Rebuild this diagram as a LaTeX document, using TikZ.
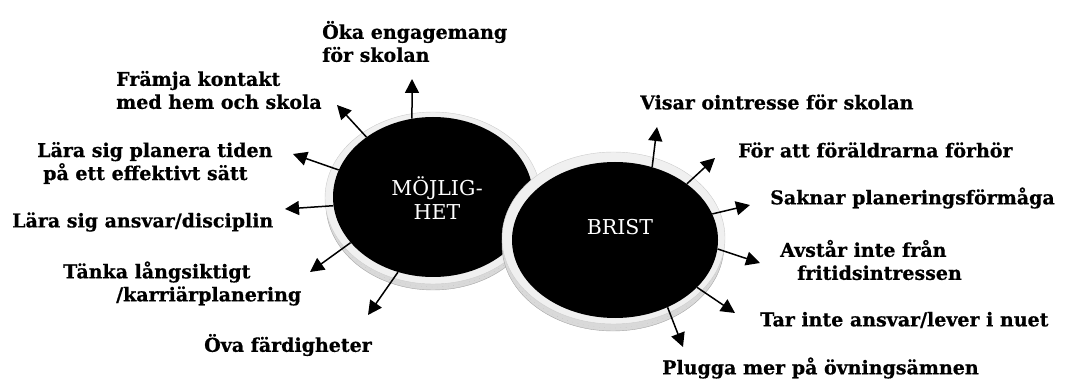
\documentclass[tikz,border=0pt]{standalone}
\usepackage{fontspec}
\usetikzlibrary{arrows.meta,shapes.geometric}
\newfontfamily\lblfam{DejaVu Serif}[BoldFeatures={FakeBold=0.6}]
\newcommand{\lblfont}{\lblfam\bfseries\fontsize{19}{23}\selectfont}
\newcommand{\infont}{\lblfam\fontsize{20.5}{24}\selectfont}
\definecolor{rimgray}{HTML}{F0F0F0}
\begin{document}
\begin{tikzpicture}[x=1pt,y=-1pt,
  lbl/.style={font=\lblfont, align=left, anchor=west, inner sep=0pt},
  disk/.style={ellipse, fill=black, inner sep=0pt, text=white, font=\infont, align=center},
  rim/.style={fill=rimgray, draw=gray!40, line width=0.4pt},
  lip/.style={fill=gray!30, draw=gray!70, line width=0.4pt},
  arr/.style={line width=1.5pt, -{Triangle[length=14pt,width=14pt]}}]
\useasboundingbox (0,0) rectangle (1068,379);
% MOJLIGHET disk
\fill[lip] (433,204) ellipse [x radius=107, y radius=86];
\draw[gray!60, line width=0.3pt, dash pattern=on 0.4pt off 5pt] (433,202) ellipse [x radius=106, y radius=85];
\fill[rim] (433,198) ellipse [x radius=108, y radius=86];
\node[disk, minimum width=200pt, minimum height=160pt] (m) at (433,197) {};
\node[text=white, font=\infont, align=center] (mt) at (437,198) {MÖJLIG-\\HET};
% BRIST disk
\fill[lip] (613,245) ellipse [x radius=111, y radius=86];
\draw[gray!60, line width=0.3pt, dash pattern=on 0.4pt off 5pt] (613,243) ellipse [x radius=110, y radius=85];
\fill[rim] (613.5,238) ellipse [x radius=111.5, y radius=86];
\node[disk, minimum width=206pt, minimum height=156pt] (b) at (615,240) {};
\node[text=white, font=\infont] (bt) at (620,227) {BRIST};
% tips
\coordinate (m1) at (412,79);
\coordinate (m2) at (337,105);
\coordinate (m3) at (293,154);
\coordinate (m4) at (285,209);
\coordinate (m5) at (310,272);
\coordinate (m6) at (368,315);
\coordinate (b1) at (657,127);
\coordinate (b2) at (715,158);
\coordinate (b3) at (750,205);
\coordinate (b4) at (760,263);
\coordinate (b5) at (735,313);
\coordinate (b6) at (683,347);
\draw[arr] (m.105.1) -- (m1);
\draw[arr] (m.138.5) -- (m2);
\draw[arr] (m.164.3) -- (m3);
\draw[arr] (m.185.2) -- (m4);
\draw[arr] (m.209.5) -- (m5);
\draw[arr] (m.245.2) -- (m6);
\draw[arr] (b.63.7) -- (b1);
\draw[arr] (b.38.9) -- (b2);
\draw[arr] (b.15.6) -- (b3);
\draw[arr] (b.-5.7) -- (b4);
\draw[arr] (b.-30.5) -- (b5);
\draw[arr] (b.-52.9) -- (b6);
% labels
\node[lbl] (ok) at (322,41.5) {Öka engagemang\\för skolan};
\node[lbl] (fr) at (116,90) {Främja kontakt\\med hem och skola};
\node[lbl] (pl) at (37,163) {Lära sig planera tiden\\\hspace*{6pt}på ett effektivt sätt};
\node[lbl] (an) at (12,222) {Lära sig ansvar/disciplin};
\node[lbl] (ta) at (63,283.5) {Tänka långsiktigt\\\hspace*{53pt}/karriärplanering};
\node[lbl] (ov) at (204,345) {Öva färdigheter};
\node[lbl] (vi) at (640,102) {Visar ointresse för skolan};
\node[lbl] (fo) at (738,150) {För att föräldrarna förhör};
\node[lbl] (sa) at (770,198) {Saknar planeringsförmåga};
\node[lbl] (av) at (780,260) {Avstår inte från\\\hspace*{17pt}fritidsintressen};
\node[lbl] (tr) at (760,320) {Tar inte ansvar/lever i nuet};
\node[lbl] (pg) at (662,368) {Plugga mer på övningsämnen};
\end{tikzpicture}
\end{document}
